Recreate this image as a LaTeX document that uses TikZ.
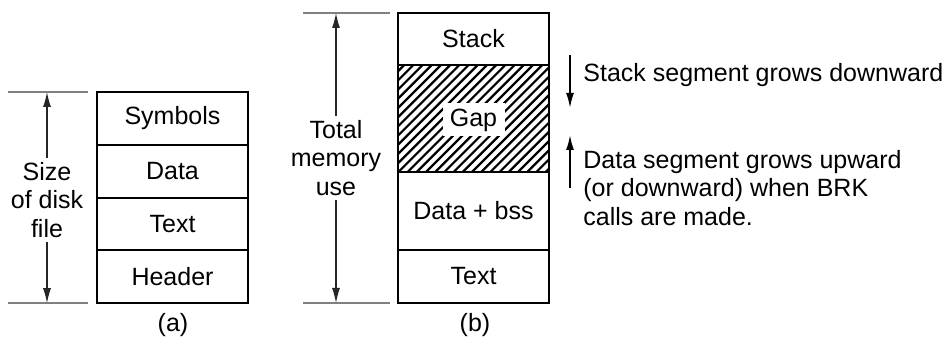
\documentclass[tikz,border=0pt]{standalone}
\usepackage{fontspec}
\setmainfont{Liberation Sans}
\usetikzlibrary{arrows.meta,positioning}

\tikzset{
  seg/.style={draw, line width=1pt, minimum width=75.5pt, outer sep=0pt, inner sep=0pt},
  extline/.style={draw=black!50, line width=1pt},
  dimarrow/.style={-{Latex[length=7.5pt,width=4pt]}, line width=0.6pt, draw=black!85},
  growarrow/.style={-{Latex[length=7.5pt,width=4pt]}, line width=0.9pt},
  hatchline/.style={line width=1.1pt},
}

\begin{document}
\begin{tikzpicture}[x=0.5pt,y=0.5pt,font=\fontsize{12.5}{14.25}\selectfont]
  \useasboundingbox (0,0) rectangle (948,347);
  % (a) layout of the disk file
  \node[seg, minimum height=26.4pt] (sym) at (172.5,228.6) {Symbols};
  \node[seg, minimum height=26.4pt, below=0pt of sym] (data) {Data};
  \node[seg, minimum height=26.4pt, below=0pt of data] (texta) {Text};
  \node[seg, minimum height=26.4pt, below=0pt of texta] (hdr) {Header};
  \draw[extline] ([xshift=-4.5pt]sym.north west) -- ++(-40pt,0);
  \draw[extline] ([xshift=-4.5pt]hdr.south west) -- ++(-40pt,0);
  \node[align=center, inner sep=2pt] (sizelbl) at (47,147) {Size\\of disk\\file};
  \draw[dimarrow] (sizelbl) -- (sizelbl |- sym.north);
  \draw[dimarrow] (sizelbl) -- (sizelbl |- hdr.south);
  \node (capa) at (173,22) {(a)};

  % (b) layout in memory
  \node[seg, minimum height=26pt] (stack) at (473.5,308) {Stack};
  \node[seg, minimum height=53.5pt, below=0pt of stack] (gap) {};
  \node[seg, minimum height=39pt, below=0pt of gap] (bss) {Data + bss};
  \node[seg, minimum height=26.5pt, below=0pt of bss] (textb) {Text};
  \begin{scope}
    \clip (gap.south west) rectangle (gap.north east);
    \foreach \d in {0,4.6,...,132}
      \draw[hatchline] ([xshift=\d pt]gap.south west) ++(-55pt,0) -- ++(60pt,60pt);
  \end{scope}
  \node[fill=white, inner sep=0pt, minimum width=31pt, minimum height=16.5pt] (gaplbl)
    at ([yshift=-0.75pt]gap.center) {Gap};
  \draw[extline] ([xshift=-4pt]stack.north west) -- ++(-43.5pt,0);
  \draw[extline] ([xshift=-4pt]textb.south west) -- ++(-43.5pt,0);
  \node[align=center, inner sep=2pt] (memlbl) at (336,189) {Total\\memory\\use};
  \draw[dimarrow] (memlbl) -- (memlbl |- stack.north);
  \draw[dimarrow] (memlbl) -- (memlbl |- textb.south);
  \node (capb) at (475,22) {(b)};

  % growth notes
  \coordinate (sdtop) at (570,292);
  \coordinate (sdend) at (570,239);
  \coordinate (dubot) at (570,159);
  \coordinate (duend) at (570,212);
  \draw[growarrow] (sdtop) -- (sdend);
  \draw[growarrow] (dubot) -- (duend);
  \node[anchor=west, inner sep=0pt] (stacknote) at (583,272) {Stack segment grows downward};
  \node[anchor=west, align=left, inner sep=0pt] (datanote) at (583,159)
    {Data segment grows upward\\(or downward) when BRK\\calls are made.};
\end{tikzpicture}
\end{document}
